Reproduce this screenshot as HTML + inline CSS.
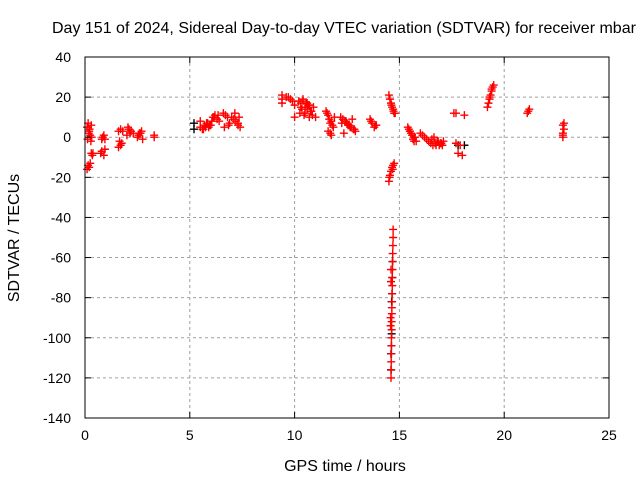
<!DOCTYPE html>
<html><head><meta charset="utf-8"><style>
body{margin:0;background:#fff}
svg text{font-family:"Liberation Sans",sans-serif;font-size:14px;fill:#000}
</style></head><body>
<svg id="c" width="640" height="480">
<rect width="640" height="480" fill="#fff"/>
<g id="grid"></g><g id="pts"></g><g id="axes"></g>
<text x="52" y="33" style="font-size:16px">Day 151 of 2024, Sidereal Day-to-day VTEC variation (SDTVAR) for receiver mbar</text>
<text x="345" y="471" text-anchor="middle" style="font-size:16px">GPS time / hours</text>
<text transform="translate(19,238) rotate(-90)" text-anchor="middle" style="font-size:16px">SDTVAR / TECUs</text>
</svg>
<script>
const xTicks=[0,5,10,15,20,25];
const yTicks=[40,20,0,-20,-40,-60,-80,-100,-120,-140];
const redT=[0.1,0.15,0.2,0.25,0.3,0.12,0.22,0.32,0.18,0.28,
0.3,0.35,0.38,0.15,0.1,0.2,0.25,
0.8,0.85,0.9,0.95,0.75,0.8,0.9,0.95,
1.6,1.7,1.8,1.65,1.75,1.6,1.7,
2.0,2.1,2.2,2.05,2.15,2.3,2.5,2.6,2.7,2.55,2.65,2.75,3.3,3.3,
5.5,5.6,5.7,5.8,5.9,6.0,5.5,5.65,5.75,5.85,5.95,6.05,
6.1,6.2,6.3,6.4,6.15,6.35,6.6,6.7,6.8,6.9,6.65,6.85,
7.0,7.1,7.2,7.3,7.4,7.15,7.35,7.3,
9.4,9.4,9.4,9.6,9.7,9.8,9.9,10.0,10.0,
10.2,10.3,10.4,10.5,10.6,10.7,10.8,10.9,10.25,10.35,10.45,10.55,10.65,10.75,10.85,10.3,10.5,10.7,10.4,10.6,11.0,
11.5,11.55,11.6,11.65,11.7,11.75,11.8,11.85,11.6,11.7,11.9,11.75,
12.2,12.3,12.4,12.5,12.6,12.7,12.8,12.9,12.35,12.55,12.75,12.25,12.45,12.65,12.85,
13.6,13.7,13.8,13.9,13.65,13.85,
14.5,14.55,14.6,14.62,14.65,14.7,14.72,14.75,14.8,
14.5,14.55,14.6,14.65,14.7,14.75,14.52,14.68,
14.7,14.7,14.69,14.68,14.68,14.67,14.66,14.66,14.65,14.65,14.64,14.64,14.63,14.63,14.62,14.62,14.62,14.61,14.61,14.6,14.6,14.6,14.58,14.58,
15.4,15.5,15.6,15.7,15.8,15.45,15.55,15.65,15.75,15.5,15.7,
16.0,16.1,16.2,16.3,16.4,16.5,16.6,16.7,16.8,16.9,17.0,17.1,16.55,16.75,16.95,16.65,16.85,17.05,
17.6,17.8,18.0,17.7,17.9,17.7,18.1,
19.2,19.25,19.3,19.35,19.4,19.45,19.5,19.3,19.4,
21.1,21.15,21.2,
22.8,22.8,22.85,22.8,22.85,22.8];
const redV=[5,7,3,1,6,-1,4,0,2,-2,
-8,-9,-8,-14,-16,-15,-13,
-1,0,1,-1,-8,-7,-9,-6,
3,4,3,-2,-3,-5,-4,
1,4,3,5,2,2,0,2,3,1,2,-1,1,0,
5,4,6,7,5,6,8,4,5,7,6,8,
10,11,9,8,10,11,12,11,10,7,5,6,
10,9,8,7,5,12,10,6,
21,19,17,20,20,19,18,16,10,
18,17,19,15,14,16,13,15,12,14,11,17,16,13,11,15,12,10,18,17,10,
13,12,11,9,7,8,6,5,3,2,10,1,
10,9,8,7,6,5,4,3,2,6,9,7,8,5,4,
9,7,5,6,8,6,
21,19,17,16,15,14,13,12,12,
-22,-19,-17,-15,-14,-13,-20,-16,
-46,-50,-54,-58,-62,-66,-70,-74,-78,-82,-85,-88,-92,-96,-100,-104,-108,-112,-116,-120,-66,-72,-90,-94,
5,3,1,0,-2,4,2,-1,0,3,-2,
2,1,0,-1,-2,-3,-4,-3,-2,-4,-3,-2,-1,-4,-3,0,-2,-4,
12,-8,-9,-3,-4,12,11,
15,17,19,21,23,25,26,20,24,
12,13,14,
0,2,4,6,7,1];
const blackT=[5.2,5.2,14.6,14.6,14.62,14.63,14.63,14.65,14.66,14.67,17.8,18.1];
const blackV=[7,4,-116,-108,-104,-98,-82,-78,-70,-62,-4,-4];
const X0=85,X1=609,Y0=418,Y1=57;
const sx=v=>X0+(v-0)/(25-0)*(X1-X0);
const sy=v=>Y0-(v+140)/(180)*(Y0-Y1);
const ns="http://www.w3.org/2000/svg";
function mk(p,t,a){const e=document.createElementNS(ns,t);for(const k in a)e.setAttribute(k,a[k]);p.appendChild(e);return e;}
const grid=document.getElementById('grid'),axes=document.getElementById('axes'),pts=document.getElementById('pts');
xTicks.forEach(v=>{const x=sx(v);
 if(v>0&&v<25){const g=mk(grid,'line',{x1:x,x2:x,y1:Y1,y2:Y0,stroke:'#a0a0a0','stroke-dasharray':'3,3'});
 
 }
 mk(axes,'line',{x1:x,x2:x,y1:Y0,y2:Y0-6,stroke:'#000'});mk(axes,'line',{x1:x,x2:x,y1:Y1,y2:Y1+6,stroke:'#000'});
 const t=mk(axes,'text',{x:x,y:Y0+22,'text-anchor':'middle'});t.textContent=v;
 
 });
yTicks.forEach(v=>{const y=sy(v);
 if(v>-140&&v<40){const g=mk(grid,'line',{x1:X0,x2:X1,y1:y,y2:y,stroke:'#a0a0a0','stroke-dasharray':'3,3'});
 
 }
 mk(axes,'line',{x1:X0,x2:X0+6,y1:y,y2:y,stroke:'#000'});mk(axes,'line',{x1:X1,x2:X1-6,y1:y,y2:y,stroke:'#000'});
 const t=mk(axes,'text',{x:X0-14,y:y+5,'text-anchor':'end'});t.textContent=v;
 
 });
const fr=mk(axes,'rect',{x:X0,y:Y1,width:X1-X0,height:Y0-Y1,fill:'none',stroke:'#000'});


function plus(x,y,c){return mk(pts,'path',{d:`M${x-4},${y}h8M${x},${y-4}v8`,stroke:c,'stroke-width':1.4});}
blackT.forEach((t,i)=>{const g=plus(sx(t),sy(blackV[i]),'#000');
 
 });
redT.forEach((t,i)=>{const g=plus(sx(t),sy(redV[i]),'#ff0000');
 
 });
</script>
</body></html>
